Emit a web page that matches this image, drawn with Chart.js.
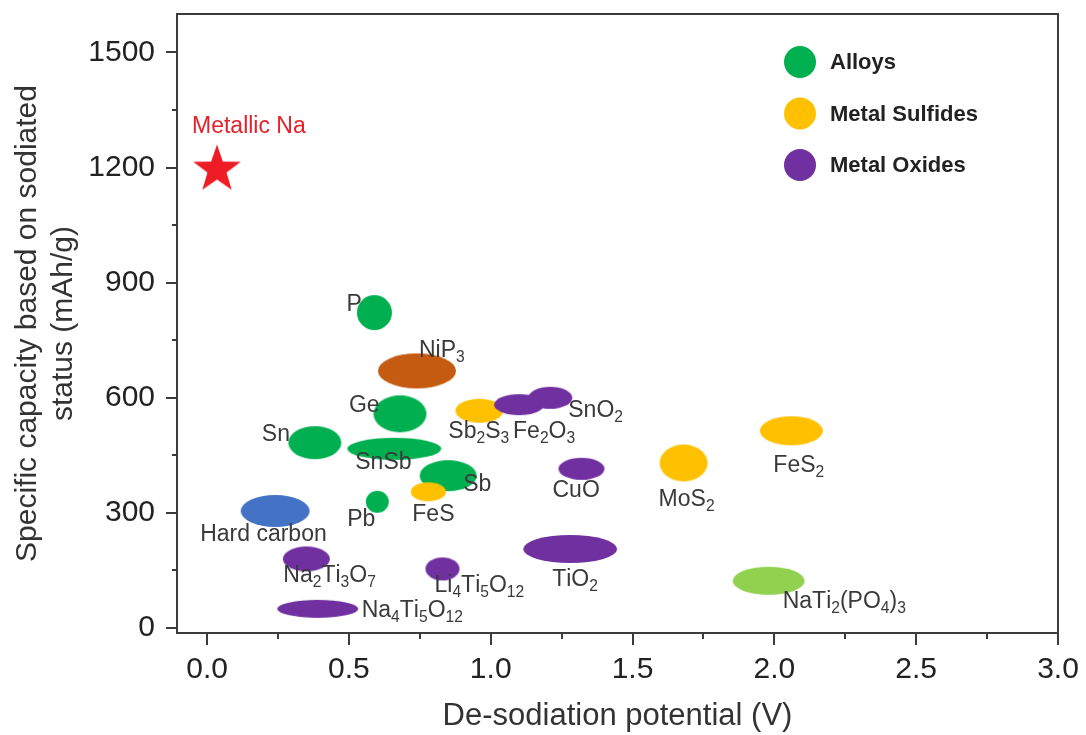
<!DOCTYPE html>
<html>
<head>
<meta charset="utf-8">
<script src="https://cdn.jsdelivr.net/npm/chart.js@4/dist/chart.umd.min.js"></script>
<style>
  html, body { margin: 0; padding: 0; background: #fff; }
  #wrap { width: 1086px; height: 735px; }
</style>
</head>
<body>
<div id="wrap"><canvas id="chart" width="1086" height="735"></canvas></div>
<script>
// Data: de-sodiation potential (V) and capacity (mAh/g)
const alloyNames = ["P", "Ge", "Sn", "SnSb", "Sb", "Pb"];
const alloyPotential = [0.59, 0.68, 0.38, 0.66, 0.85, 0.60];
const alloyCapacity = [822, 558, 483, 467, 397, 329];

const sulfideNames = ["Sb₂S₃", "FeS", "MoS₂", "FeS₂"];
const sulfidePotential = [0.96, 0.78, 1.68, 2.06];
const sulfideCapacity = [566, 355, 430, 514];

const oxideNames = ["Fe₂O₃", "SnO₂", "CuO", "TiO₂", "Li₄Ti₅O₁₂", "Na₂Ti₃O₇", "Na₄Ti₅O₁₂"];
const oxidePotential = [1.10, 1.21, 1.32, 1.28, 0.83, 0.35, 0.39];
const oxideCapacity = [582, 600, 415, 206, 154, 180, 50];

const otherNames = ["NiP₃", "Hard carbon", "NaTi₂(PO₄)₃"];
const otherPotential = [0.74, 0.24, 1.98];
const otherCapacity = [670, 305, 123];

const metalNames = ["Metallic Na"];
const metalPotential = [0.035];
const metalCapacity = [1200];

const xTicks = [0, 0.5, 1.0, 1.5, 2.0, 2.5, 3.0];
const yTicks = [0, 300, 600, 900, 1200, 1500];

// Styles: marker sizes in px [w, h] and label offsets [dx, dy] from the marker
const alloySize = [[35, 35], [53, 37], [53, 33], [94, 22], [57, 31], [23, 22]];
const alloyLabel = [[-28, -8], [-51, -8], [-53, -8], [-39, 14], [15, 9], [-30, 18]];
const sulfideSize = [[48, 24], [35, 19], [48, 37], [63, 29]];
const sulfideLabel = [[-31, 21], [-16, 23], [-25, 37], [-18, 35]];
const oxideSize = [[50, 21], [44, 22], [46, 22], [94, 28], [34, 23], [47, 25], [81, 18]];
const oxideLabel = [[-6, 27], [18, 13], [-29, 22], [-18, 31], [-8, 17], [-23, 17], [44, 2]];
const otherSize = [[78, 35], [69, 32], [72, 28]];
const otherLabel = [[2, -20], [-75, 24], [14, 21]];
const otherColor = ["#c55a11", "#4472c4", "#92d050"];
const metalLabel = [[-25, -41]];

const GREEN = "#00b050";
const GOLD = "#ffc000";
const PURPLE = "#7030a0";
const FONT = "'Liberation Sans', Arial, sans-serif";
const AXIS = "#3c3c3c";
const SUBS = "₀₁₂₃₄₅₆₇₈₉";

function ellipse(color, w, h) {
    const c = document.createElement("canvas");
    c.width = w + 2;
    c.height = h + 2;
    const g = c.getContext("2d");
    g.fillStyle = color;
    g.beginPath();
    g.ellipse(c.width / 2, c.height / 2, w / 2, h / 2, 0, 0, Math.PI * 2);
    g.fill();
    return c;
}

function star(color, r) {
    const c = document.createElement("canvas");
    c.width = c.height = r * 2 + 2;
    const g = c.getContext("2d");
    g.fillStyle = color;
    g.beginPath();
    for (let i = 0; i < 10; i++) {
        const rad = i % 2 === 0 ? r : r * 0.4;
        const a = -Math.PI / 2 + i * Math.PI / 5;
        g.lineTo(c.width / 2 + rad * Math.cos(a), c.height / 2 + 2 + rad * Math.sin(a));
    }
    g.closePath();
    g.fill();
    return c;
}

function points(xs, ys, names) {
    return xs.map((x, i) => ({ x, y: ys[i], name: names[i] }));
}

const datasets = [
    {
        label: "Metal Oxides", legendColor: PURPLE,
        data: points(oxidePotential, oxideCapacity, oxideNames),
        pointStyle: oxideSize.map(s => ellipse(PURPLE, s[0], s[1])),
        labelOffset: oxideLabel
    },
    {
        label: "Metal Sulfides", legendColor: GOLD,
        data: points(sulfidePotential, sulfideCapacity, sulfideNames),
        pointStyle: sulfideSize.map(s => ellipse(GOLD, s[0], s[1])),
        labelOffset: sulfideLabel
    },
    {
        label: "Alloys", legendColor: GREEN,
        data: points(alloyPotential, alloyCapacity, alloyNames),
        pointStyle: alloySize.map(s => ellipse(GREEN, s[0], s[1])),
        labelOffset: alloyLabel
    },
    {
        label: "Other",
        data: points(otherPotential, otherCapacity, otherNames),
        pointStyle: otherSize.map((s, i) => ellipse(otherColor[i], s[0], s[1])),
        labelOffset: otherLabel
    },
    {
        label: "Metallic Na",
        data: points(metalPotential, metalCapacity, metalNames),
        pointStyle: star("#ee1c25", 25),
        labelOffset: metalLabel,
        labelColor: "#e8202a"
    }
];

// draw text with unicode subscript digits rendered small and lowered
function drawRich(ctx, text, x, y, size) {
    let cx = x;
    for (const ch of text) {
        const k = SUBS.indexOf(ch);
        if (k >= 0) {
            ctx.font = (size * 0.68) + "px " + FONT;
            ctx.fillText(String(k), cx, y + size * 0.3);
            cx += ctx.measureText(String(k)).width;
        } else {
            ctx.font = size + "px " + FONT;
            ctx.fillText(ch, cx, y);
            cx += ctx.measureText(ch).width;
        }
    }
}

const annotate = {
    id: "annotate",
    afterDatasetsDraw(chart) {
        const ctx = chart.ctx;
        ctx.save();
        ctx.textAlign = "left";
        ctx.textBaseline = "middle";
        chart.data.datasets.forEach((ds, di) => {
            const meta = chart.getDatasetMeta(di);
            meta.data.forEach((el, i) => {
                const off = ds.labelOffset[i];
                ctx.fillStyle = ds.labelColor || "#3a3a3a";
                drawRich(ctx, ds.data[i].name, el.x + off[0], el.y + off[1], 23);
            });
        });
        ctx.restore();
    },
    afterDraw(chart) {
        const ctx = chart.ctx;
        const a = chart.chartArea;
        const xs = chart.scales.x;
        const ys = chart.scales.y;
        ctx.save();
        ctx.strokeStyle = AXIS;
        ctx.lineWidth = 2;
        ctx.strokeRect(a.left, a.top, a.right - a.left, a.bottom - a.top);

        // major + minor tick marks
        ctx.beginPath();
        for (let v = 0; v <= 3.0001; v += 0.25) {
            const px = Math.round(xs.getPixelForValue(v));
            const len = Math.abs(v / 0.5 - Math.round(v / 0.5)) < 1e-6 ? 12 : 6;
            ctx.moveTo(px, a.bottom);
            ctx.lineTo(px, a.bottom + len);
        }
        for (let v = 0; v <= 1500; v += 150) {
            const py = Math.round(ys.getPixelForValue(v));
            const len = v % 300 === 0 ? 11 : 5;
            ctx.moveTo(a.left, py);
            ctx.lineTo(a.left - len, py);
        }
        ctx.stroke();

        // legend
        const entries = chart.data.datasets.filter(d => d.legendColor);
        const order = ["Alloys", "Metal Sulfides", "Metal Oxides"];
        ctx.textAlign = "left";
        ctx.textBaseline = "middle";
        ctx.font = "bold 22px " + FONT;
        order.forEach((name, i) => {
            const ds = entries.find(d => d.label === name);
            const cy = 62 + i * 51.5;
            ctx.fillStyle = ds.legendColor;
            ctx.beginPath();
            ctx.arc(800, cy, 16, 0, Math.PI * 2);
            ctx.fill();
            ctx.fillStyle = "#222";
            ctx.fillText(name, 830, cy + 1);
        });
        ctx.restore();
    }
};

new Chart(document.getElementById("chart"), {
    type: "scatter",
    data: { datasets },
    options: {
        responsive: false,
        animation: false,
        layout: { padding: { top: 14, right: 28, left: 0, bottom: 0 } },
        plugins: {
            legend: { display: false },
            tooltip: { enabled: false }
        },
        scales: {
            x: {
                type: "linear",
                min: -0.106,
                max: 3.0,
                afterFit: s => { s.height = 102; s.paddingLeft = 0; s.paddingRight = 0; },
                afterBuildTicks: s => { s.ticks = xTicks.map(v => ({ value: v })); },
                grid: { drawOnChartArea: false, tickLength: 12, tickColor: "rgba(0,0,0,0)" },
                border: { color: AXIS, width: 2 },
                ticks: {
                    padding: 7,
                    color: "#222",
                    font: { family: FONT, size: 30 },
                    callback: v => Number(v).toFixed(1)
                },
                title: {
                    display: true,
                    text: "De-sodiation potential (V)",
                    color: "#333",
                    font: { family: FONT, size: 31 },
                    padding: { top: 0, bottom: 0 }
                }
            },
            y: {
                type: "linear",
                min: -13,
                max: 1600,
                afterFit: s => { s.width = 177; s.paddingTop = 0; s.paddingBottom = 0; },
                afterBuildTicks: s => { s.ticks = yTicks.map(v => ({ value: v })); },
                grid: { drawOnChartArea: false, tickLength: 11, tickColor: "rgba(0,0,0,0)" },
                border: { color: AXIS, width: 2 },
                ticks: {
                    padding: 11,
                    color: "#222",
                    font: { family: FONT, size: 30 },
                    callback: v => String(v)
                },
                title: {
                    display: true,
                    text: ["Specific capacity based on sodiated", "status (mAh/g)"],
                    color: "#333",
                    font: { family: FONT, size: 30, lineHeight: 1.2 },
                    padding: { top: 10, bottom: 0 }
                }
            }
        }
    },
    plugins: [annotate]
});
</script>
</body>
</html>
